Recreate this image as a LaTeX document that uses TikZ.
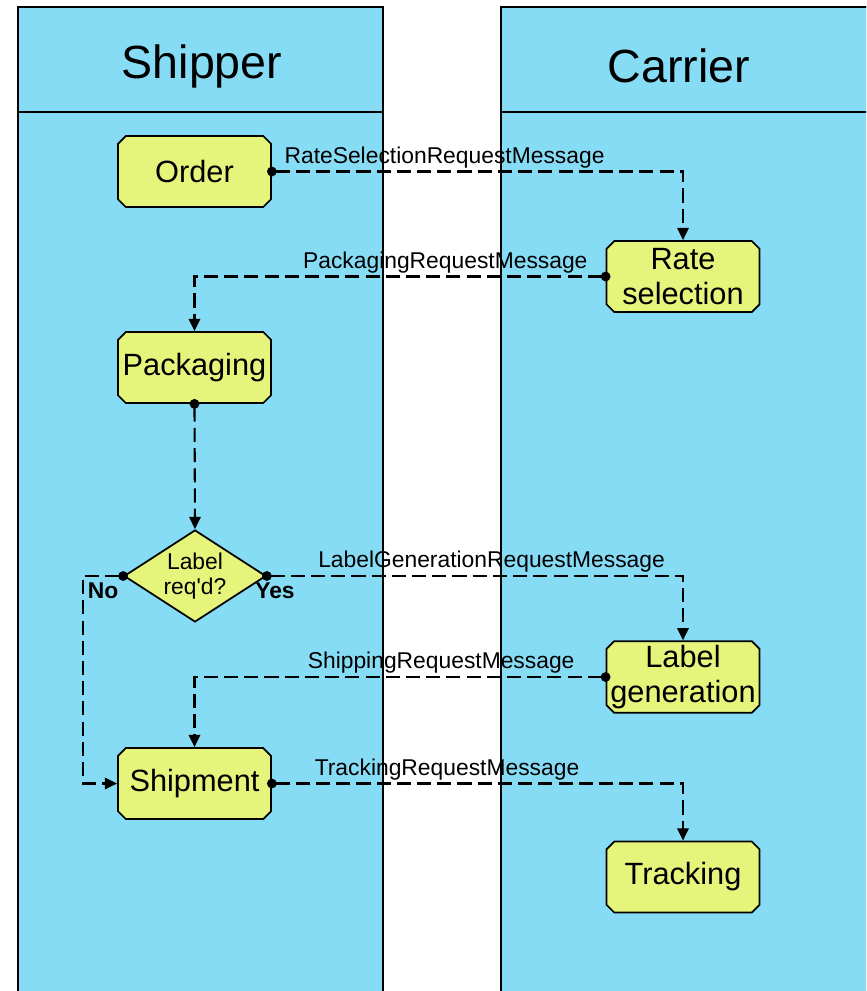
\documentclass[tikz,border=0pt]{standalone}
\usepackage{fontspec}
\setmainfont{Liberation Sans}
\usetikzlibrary{shapes.misc, shapes.geometric, arrows.meta}
\definecolor{lanecyan}{RGB}{135,220,245}
\definecolor{stepyellow}{RGB}{229,244,122}

\begin{document}
\begin{tikzpicture}[x=0.02cm, y=-0.02cm,
           lane/.style={draw=black, fill=lanecyan, line width=1pt},
           lanehead/.style={font=\fontsize{26.5}{30}\selectfont},
           activity/.style={draw=black, fill=stepyellow, line width=1pt, chamfered rectangle,
              chamfered rectangle xsep=2.2pt, chamfered rectangle ysep=2.2pt, inner sep=0pt,
              minimum width=3.06cm, minimum height=1.42cm, align=center,
              font=\fontsize{17.5}{20}\selectfont},
           decision/.style={draw=black, fill=stepyellow, line width=1pt, diamond, aspect=1.55,
              inner sep=0pt, minimum width=2.84cm, minimum height=1.84cm, align=center,
              font=\fontsize{13}{14.5}\selectfont},
           answer/.style={font=\fontsize{13}{15}\selectfont\bfseries, inner sep=0pt},
           message/.style={{Circle[length=5.5pt]}-{Triangle[length=7pt,width=6.5pt]}, draw=black,
              line width=1.2pt, dash pattern=on 8pt off 3.5pt, shorten <=-2.75pt},
           msglabel/.style={above, inner sep=1.5pt, font=\fontsize{13}{15}\selectfont},
        ]
        \useasboundingbox (0,0) rectangle (866,991);
        \clip (0,0) rectangle (866,991);

        % swim lanes
        \draw[lane] (18,7) rectangle (383,1010);
        \draw[lane] (18,7) rectangle (383,112);
        \draw[lane] (501,7) rectangle (880,1010);
        \draw[lane] (501,7) rectangle (880,112);
        \node at (202,66) (shipper) [lanehead] {Shipper};
        \node at (679,66) (carrier) [lanehead] {Carrier};

        % activities
        \node at (194.5,171.5) (order) [activity] {Order};
        \node at (683,276.5) (ratesel) [activity] {Rate\\selection};
        \node at (194.5,367.5) (packaging) [activity] {Packaging};
        \node at (195,576) (labelreq) [decision] {Label\\req\textquotesingle d?};
        \node at (683,677) (labelgen) [activity] {Label\\generation};
        \node at (194.5,783.5) (shipment) [activity] {Shipment};
        \node at (683,877) (tracking) [activity] {Tracking};

        \node at (103,591) (no) [answer] {No};
        \node at (275,591) (yes) [answer] {Yes};

        % messages
        \draw[message] (order.east) -| node[msglabel, pos=0.21] (ratemsg) {RateSelectionRequestMessage} (ratesel.north);
        \draw[message] (ratesel.west) -| node[msglabel, pos=0.195] (packmsg) {PackagingRequestMessage} (packaging.north);
        \draw[message] (packaging.south) -- (labelreq.north);
        \draw[message] (labelreq.east) -| node[msglabel, pos=0.27] (labelmsg) {LabelGenerationRequestMessage} (labelgen.north);
        \draw[message] (labelreq.west) -- ++(-40,0) |- (shipment.west);
        \draw[message] (labelgen.west) -| node[msglabel, pos=0.2] (shipmsg) {ShippingRequestMessage} (shipment.north);
        \draw[message] (shipment.east) -| node[msglabel, pos=0.213] (trackmsg) {TrackingRequestMessage} (tracking.north);
     \end{tikzpicture}
\end{document}
